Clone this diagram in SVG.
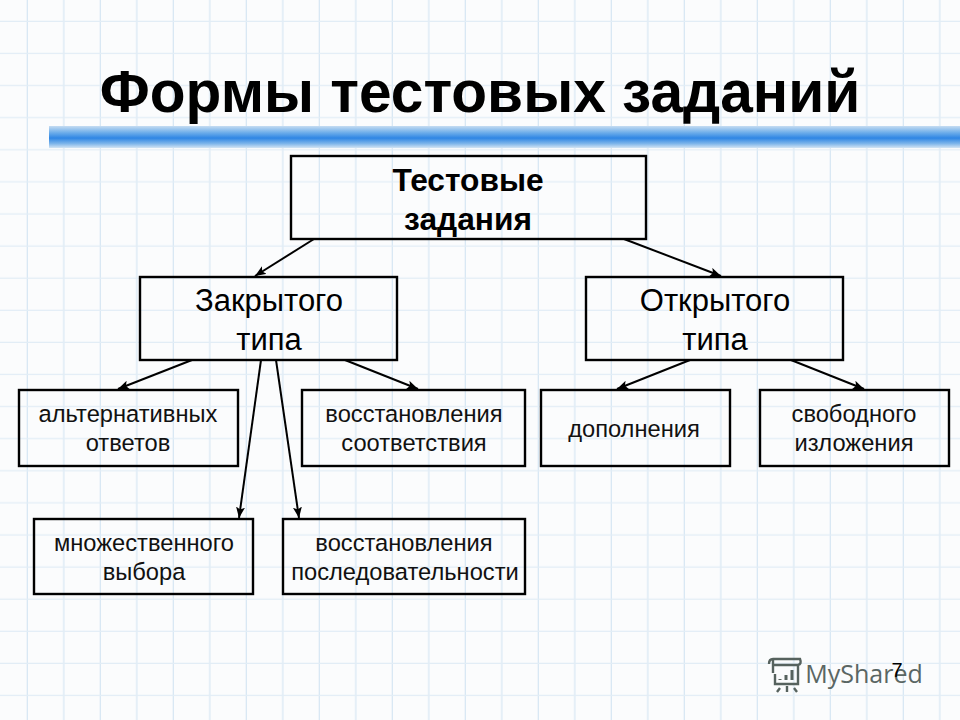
<svg xmlns="http://www.w3.org/2000/svg" width="960" height="720" viewBox="0 0 960 720">
<defs>
<pattern id="grid" x="-8.5" y="22" width="36.5" height="32.1" patternUnits="userSpaceOnUse">
<rect width="36.5" height="32.1" fill="#fbfcfd"/>
<path d="M36.5 0V32.1" stroke="#d9e8f4" stroke-width="2.6" fill="none"/>
<path d="M0 32.1H36.5" stroke="#e2edf6" stroke-width="2.2" fill="none"/>
</pattern>
<linearGradient id="bar" x1="0" y1="0" x2="0" y2="1">
<stop offset="0" stop-color="#c5dcf2"/>
<stop offset="0.3" stop-color="#6eaeea"/>
<stop offset="0.55" stop-color="#2f86e4"/>
<stop offset="0.8" stop-color="#7db5ea"/>
<stop offset="1" stop-color="#d3e4f3"/>
</linearGradient>
<marker id="arr" markerWidth="12" markerHeight="10" refX="11" refY="4.5" orient="auto" markerUnits="userSpaceOnUse">
<path d="M0 0L11 4.5L0 9L2.5 4.5Z" fill="#000"/>
</marker>
<style>
.box{fill:none;stroke:#000;stroke-width:2.4}
.c{stroke:#000;stroke-width:2;fill:none;marker-end:url(#arr)}
text{font-family:"Liberation Sans",Arial,sans-serif;fill:#000;text-anchor:middle}
.b{font-size:31.7px;font-weight:bold}
.m{font-size:31px}
.s{font-size:23.7px;fill:#111}
</style>
</defs>
<rect width="960" height="720" fill="url(#grid)"/>
<rect x="49" y="126" width="911" height="22" fill="url(#bar)"/>
<text id="title" x="480" y="112" style="font-size:58.6px;font-weight:bold">Формы тестовых заданий</text>
<g id="connectors">
<path class="c" d="M314 239L255 276"/>
<path class="c" d="M624 239L721 276"/>
<path class="c" d="M192 360L118 389"/>
<path class="c" d="M345 360L418 389"/>
<path class="c" d="M261 360L239 518"/>
<path class="c" d="M276 360L299 518"/>
<path class="c" d="M690 360L617 389"/>
<path class="c" d="M791 360L864 389"/>
</g>
<g id="root"><rect class="box" x="291" y="156" width="355" height="83"/><text class="b" x="468" y="191">Тестовые</text><text class="b" x="468" y="230">задания</text></g>
<g id="closed"><rect class="box" x="140" y="277" width="257" height="83"/><text class="m" x="269" y="311">Закрытого</text><text class="m" x="269" y="350">типа</text></g>
<g id="open"><rect class="box" x="586" y="277" width="257" height="83"/><text class="m" x="715" y="311">Открытого</text><text class="m" x="715" y="350">типа</text></g>
<g id="alt"><rect class="box" x="19" y="390" width="219" height="76"/><text class="s" x="128" y="422">альтернативных</text><text class="s" x="128" y="451">ответов</text></g>
<g id="match"><rect class="box" x="302" y="390" width="223" height="76"/><text class="s" x="414" y="422">восстановления</text><text class="s" x="414" y="451">соответствия</text></g>
<g id="fill"><rect class="box" x="541" y="390" width="189" height="76"/><text class="s" x="634" y="437">дополнения</text></g>
<g id="free"><rect class="box" x="760" y="390" width="189" height="76"/><text class="s" x="854" y="422">свободного</text><text class="s" x="854" y="451">изложения</text></g>
<g id="multi"><rect class="box" x="34" y="519" width="219" height="75"/><text class="s" x="144" y="551">множественного</text><text class="s" x="144" y="580">выбора</text></g>
<g id="seq"><rect class="box" x="283" y="519" width="242" height="75"/><text class="s" x="404" y="551">восстановления</text><text class="s" x="405" y="580">последовательности</text></g>
<g id="logo" fill="none" stroke="#56625e" stroke-width="2.4">
<path d="M769 664Q769 659 773 659H800Q802 664 798 665H774M773 659V673M798 665V684H775V674"/>
<path d="M780 688L777 692M787 686V692M794 688L797 692"/>
<path d="M780 679V680M786 675V680M792 670V680" stroke-width="3"/>
</g>
<text x="864" y="683" style="font-size:25px;font-family:'Open Sans','Liberation Sans',sans-serif;fill:#5a6663">MyShared</text>
<text id="page" x="897" y="677" style="font-size:20px">7</text>
</svg>
